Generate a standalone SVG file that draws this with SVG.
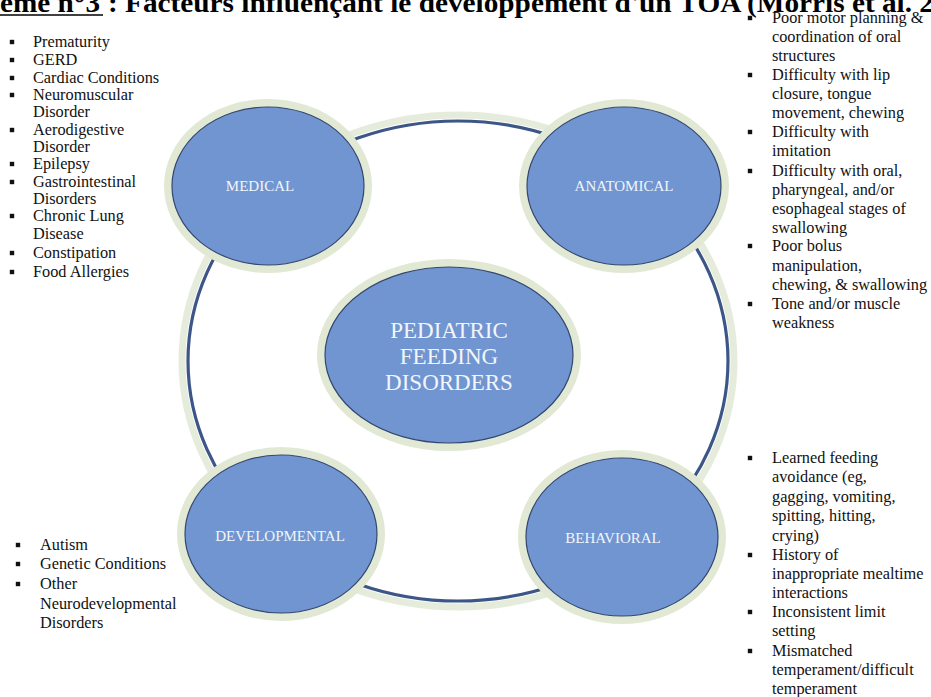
<svg xmlns="http://www.w3.org/2000/svg" width="931" height="697" viewBox="0 0 931 697">
<style>
.hdr{font-family:"Liberation Serif",serif;font-weight:bold;font-size:28px;fill:#000}
.lst{font-family:"Liberation Serif",serif;font-size:16.3px;fill:#111}
.halo{fill:none;stroke:#e1e9d4;stroke-width:8}
.node{fill:#7095d0;stroke:#34466e;stroke-width:1.2}
.lbl{font-family:"Liberation Serif",serif;font-size:15px;fill:#f2f5fa;text-anchor:middle}
.big{font-family:"Liberation Serif",serif;font-size:23px;fill:#f2f5fa;text-anchor:middle}
.ringHalo{fill:none;stroke:#e6ecdc;stroke-width:7}
.ring{fill:none;stroke:#3c5688;stroke-width:3.2}
</style>
<defs>
<rect id="b" x="-2.2" y="-2.2" width="4.4" height="4.4" fill="#111"/>
</defs>
<rect width="931" height="697" fill="#fff"/>
<g id="header">
<text class="hdr" x="0" y="12" textLength="100" lengthAdjust="spacingAndGlyphs">ème n°3</text>
<line x1="0" y1="15" x2="103" y2="15" stroke="#000" stroke-width="1.6"/>
<text class="hdr" x="108" y="12" textLength="826" lengthAdjust="spacingAndGlyphs">: Facteurs influençant le développement d'un TOA (Morris et al. 2</text>
</g>
<g id="connectors">
<ellipse class="ringHalo" cx="458" cy="361" rx="276" ry="246"/>
<ellipse class="ring" cx="458" cy="361" rx="270" ry="240"/>
</g>
<g id="node-medical">
<ellipse class="halo" cx="268" cy="186" rx="100" ry="83"/>
<ellipse class="node" cx="268" cy="186" rx="96" ry="79"/>
<text class="lbl" x="260" y="191">MEDICAL</text>
</g>
<g id="node-anatomical">
<ellipse class="halo" cx="624" cy="186" rx="101" ry="83"/>
<ellipse class="node" cx="624" cy="186" rx="97" ry="79"/>
<text class="lbl" x="624" y="191">ANATOMICAL</text>
</g>
<g id="node-developmental">
<ellipse class="halo" cx="281" cy="534" rx="100" ry="83"/>
<ellipse class="node" cx="281" cy="534" rx="96" ry="79"/>
<text class="lbl" x="280" y="541">DEVELOPMENTAL</text>
</g>
<g id="node-behavioral">
<ellipse class="halo" cx="622" cy="537" rx="100" ry="83"/>
<ellipse class="node" cx="622" cy="537" rx="96" ry="79"/>
<text class="lbl" x="613" y="543">BEHAVIORAL</text>
</g>
<g id="node-center">
<ellipse class="halo" cx="449" cy="355" rx="128" ry="92"/>
<ellipse class="node" cx="449" cy="355" rx="124" ry="88"/>
<text class="big" x="449" y="338">PEDIATRIC</text>
<text class="big" x="449" y="364">FEEDING</text>
<text class="big" x="449" y="390">DISORDERS</text>
</g>
<g id="list-medical">
<use href="#b" x="12" y="42"/><text class="lst" x="33" y="47">Prematurity</text>
<use href="#b" x="12" y="60"/><text class="lst" x="33" y="65">GERD</text>
<use href="#b" x="12" y="78"/><text class="lst" x="33" y="83">Cardiac Conditions</text>
<use href="#b" x="12" y="95"/><text class="lst" x="33" y="100">Neuromuscular</text>
<text class="lst" x="33" y="117">Disorder</text>
<use href="#b" x="12" y="130"/><text class="lst" x="33" y="135">Aerodigestive</text>
<text class="lst" x="33" y="152">Disorder</text>
<use href="#b" x="12" y="164"/><text class="lst" x="33" y="169">Epilepsy</text>
<use href="#b" x="12" y="182"/><text class="lst" x="33" y="187">Gastrointestinal</text>
<text class="lst" x="33" y="204">Disorders</text>
<use href="#b" x="12" y="216"/><text class="lst" x="33" y="221">Chronic Lung</text>
<text class="lst" x="33" y="239">Disease</text>
<use href="#b" x="12" y="253"/><text class="lst" x="33" y="258">Constipation</text>
<use href="#b" x="12" y="272"/><text class="lst" x="33" y="277">Food Allergies</text>
</g>
<g id="list-anatomical">
<use href="#b" x="750" y="18"/><text class="lst" x="772" y="23">Poor motor planning &amp;</text>
<text class="lst" x="772" y="42">coordination of oral</text>
<text class="lst" x="772" y="61">structures</text>
<use href="#b" x="750" y="75"/><text class="lst" x="772" y="80">Difficulty with lip</text>
<text class="lst" x="772" y="99">closure, tongue</text>
<text class="lst" x="772" y="118">movement, chewing</text>
<use href="#b" x="750" y="132"/><text class="lst" x="772" y="137">Difficulty with</text>
<text class="lst" x="772" y="156">imitation</text>
<use href="#b" x="750" y="171"/><text class="lst" x="772" y="176">Difficulty with oral,</text>
<text class="lst" x="772" y="195">pharyngeal, and/or</text>
<text class="lst" x="772" y="214">esophageal stages of</text>
<text class="lst" x="772" y="233">swallowing</text>
<use href="#b" x="750" y="246"/><text class="lst" x="772" y="251">Poor bolus</text>
<text class="lst" x="772" y="271">manipulation,</text>
<text class="lst" x="772" y="290">chewing, &amp; swallowing</text>
<use href="#b" x="750" y="304"/><text class="lst" x="772" y="309">Tone and/or muscle</text>
<text class="lst" x="772" y="328">weakness</text>
</g>
<g id="list-developmental">
<use href="#b" x="18" y="545"/><text class="lst" x="40" y="550">Autism</text>
<use href="#b" x="18" y="564"/><text class="lst" x="40" y="569">Genetic Conditions</text>
<use href="#b" x="18" y="584"/><text class="lst" x="40" y="589">Other</text>
<text class="lst" x="40" y="609">Neurodevelopmental</text>
<text class="lst" x="40" y="628">Disorders</text>
</g>
<g id="list-behavioral">
<use href="#b" x="750" y="458"/><text class="lst" x="772" y="463">Learned feeding</text>
<text class="lst" x="772" y="482">avoidance (eg,</text>
<text class="lst" x="772" y="502">gagging, vomiting,</text>
<text class="lst" x="772" y="521">spitting, hitting,</text>
<text class="lst" x="772" y="541">crying)</text>
<use href="#b" x="750" y="555"/><text class="lst" x="772" y="560">History of</text>
<text class="lst" x="772" y="579">inappropriate mealtime</text>
<text class="lst" x="772" y="598">interactions</text>
<use href="#b" x="750" y="612"/><text class="lst" x="772" y="617">Inconsistent limit</text>
<text class="lst" x="772" y="636">setting</text>
<use href="#b" x="750" y="651"/><text class="lst" x="772" y="656">Mismatched</text>
<text class="lst" x="772" y="675">temperament/difficult</text>
<text class="lst" x="772" y="694">temperament</text>
</g>
</svg>
